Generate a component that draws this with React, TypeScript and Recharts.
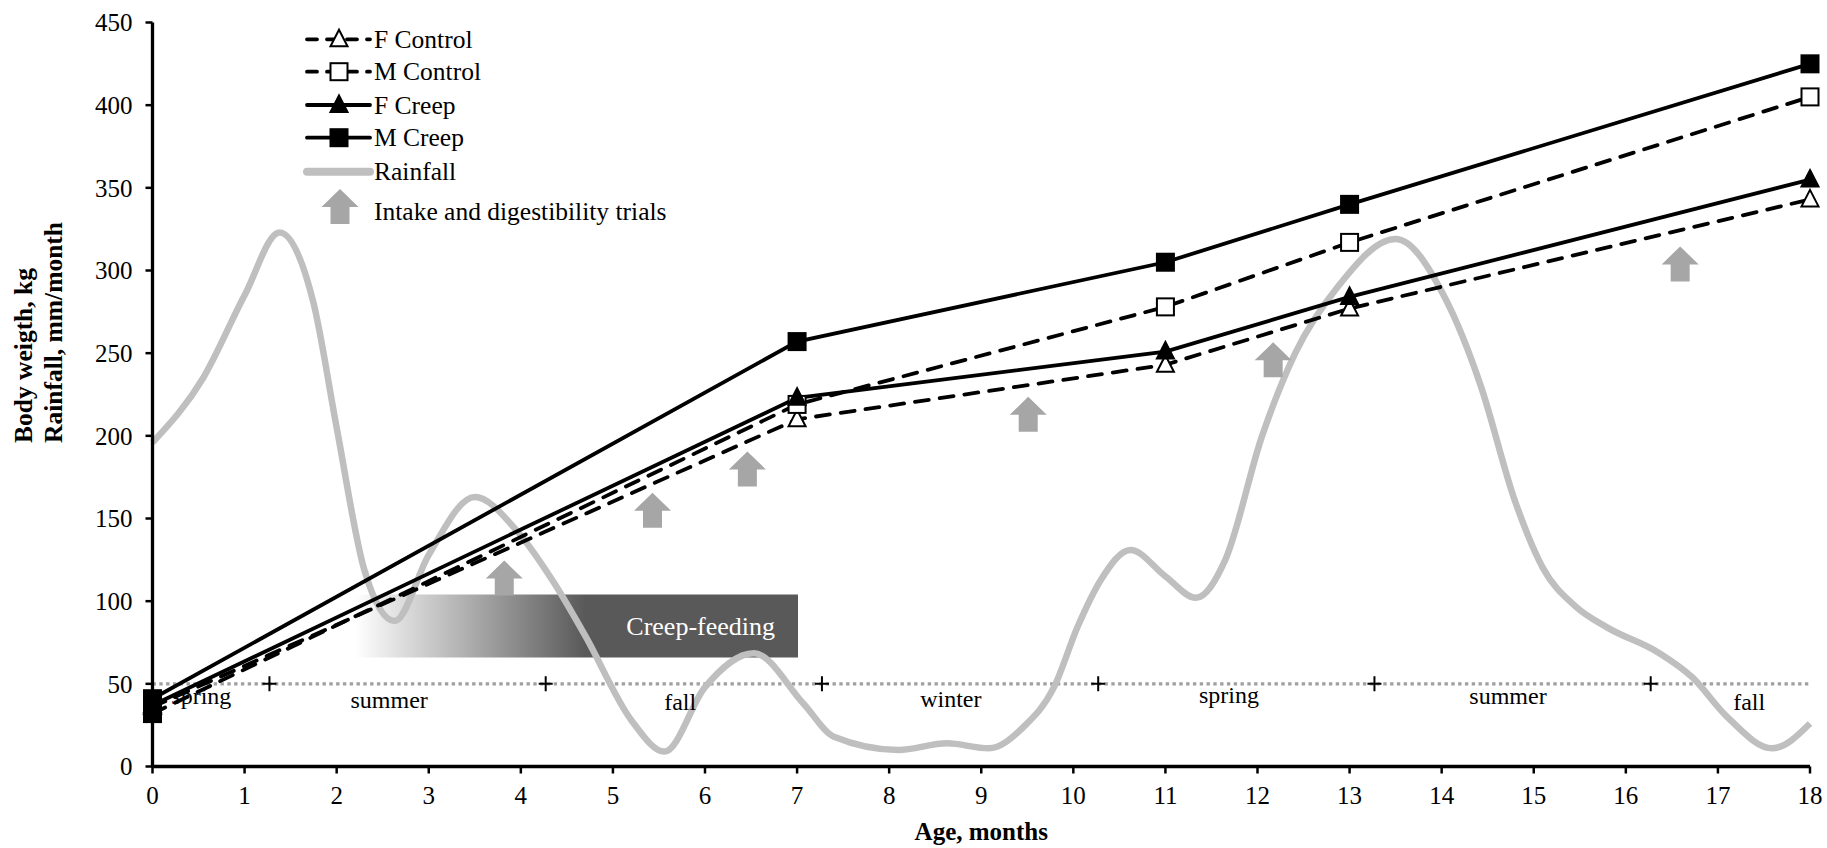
import React from 'react';
import { ComposedChart, Line, XAxis, YAxis, Scatter, ReferenceArea, ReferenceLine } from 'recharts';

const FONT = 'Liberation Serif';

// Body weight (kg) at weighing ages (months)
const weighMonths = [0, 7, 11, 13, 18];
const fControl = [36, 210, 243, 277, 343];
const mControl = [32, 219, 278, 317, 405];
const fCreep = [37, 223, 251, 284, 355];
const mCreep = [41, 257, 305, 340, 425];

// Rainfall (mm/month)
const rainMonths = [0, 0.55, 1.0, 1.38, 1.75, 2.0, 2.3, 2.63, 3.0, 3.5, 3.95, 4.35, 4.7, 5.2, 5.56, 6.0, 6.53, 7.07, 7.4, 8.1, 8.63, 9.08, 9.46, 9.79, 10.05, 10.3, 10.62, 11.0, 11.33, 11.65, 12.05, 12.41, 12.87, 13.5, 14.04, 14.42, 14.8, 15.1, 15.45, 15.8, 16.35, 16.72, 17.1, 17.59, 18];
const rainValues = [196, 235, 285, 323, 280, 205, 119, 88, 128, 163, 143, 112, 79, 28, 9, 48, 68.5, 38, 18, 10, 14, 11, 24, 48, 85, 113, 131, 115, 102, 125, 200, 250, 290, 319, 283, 231, 160, 120, 97, 84, 69, 54, 30, 11, 26];

// Intake and digestibility trials
const trialMonths = [3.82, 5.43, 6.46, 9.51, 12.17, 16.59];
const trialValues = [114, 155, 180, 213, 246, 304];

// Seasons
const seasonLevel = 50;
const seasonMarkMonths = [1.27, 4.27, 7.27, 10.27, 13.27, 16.27];
const seasonNames = ['spring', 'summer', 'fall', 'winter', 'spring', 'summer', 'fall'];
const seasonNameMonths = [0.53, 2.57, 5.73, 8.67, 11.69, 14.72, 17.34];
const seasonNameValues = [37.8, 35.4, 34.2, 36, 38.4, 37.8, 34.2];

// Creep-feeding period
const creepStart = 2.2;
const creepEnd = 7.01;
const creepLow = 66;
const creepHigh = 104;

const xTicks = [0, 1, 2, 3, 4, 5, 6, 7, 8, 9, 10, 11, 12, 13, 14, 15, 16, 17, 18];
const yTicks = [0, 50, 100, 150, 200, 250, 300, 350, 400, 450];

const toXY = (xs: number[], ys: number[]) => xs.map((x, i) => ({ x, y: ys[i] }));

const fControlData = toXY(weighMonths, fControl);
const mControlData = toXY(weighMonths, mControl);
const fCreepData = toXY(weighMonths, fCreep);
const mCreepData = toXY(weighMonths, mCreep);
const rainData = toXY(rainMonths, rainValues);
const trialData = toXY(trialMonths, trialValues);
const seasonMarkData = seasonMarkMonths.map((x) => ({ x, y: seasonLevel }));
const seasonNameData = seasonNames.map((label, i) => ({ x: seasonNameMonths[i], y: seasonNameValues[i], label }));

const LINE_W = 3.8;
const DASH = '14 11';
const RAIN_COLOR = '#bfbfbf';
const ARROW_COLOR = '#a6a6a6';

const Square = ({ cx, cy, filled }: { cx: number; cy: number; filled: boolean }) => (
  <rect x={cx - 8.5} y={cy - 8.5} width={17} height={17} fill={filled ? '#000' : '#fff'} stroke="#000" strokeWidth={2} />
);

const Triangle = ({ cx, cy, filled }: { cx: number; cy: number; filled: boolean }) => (
  <path
    d={`M${cx},${cy - 9.5} L${cx + 8.5},${cy + 7} L${cx - 8.5},${cy + 7} Z`}
    fill={filled ? '#000' : '#fff'}
    stroke="#000"
    strokeWidth={2}
    strokeLinejoin="miter"
  />
);

const Arrow = ({ cx, cy }: { cx: number; cy: number }) => {
  const w = 37;
  const h = 35;
  const hh = 18;
  const sw = 19;
  const top = cy - h / 2;
  const bot = cy + h / 2;
  const mid = top + hh;
  return (
    <path
      d={`M${cx},${top} L${cx + w / 2},${mid} L${cx + sw / 2},${mid} L${cx + sw / 2},${bot} L${cx - sw / 2},${bot} L${cx - sw / 2},${mid} L${cx - w / 2},${mid} Z`}
      fill={ARROW_COLOR}
    />
  );
};

// the starting (month 0) markers overlap and print solid black in the source
const dotRenderer = (kind: 'sq' | 'tri', filled: boolean) => (p: any) => {
  const key = `dot-${kind}-${filled ? 'f' : 'o'}-${p.index}`;
  if (p.cx == null || p.cy == null) return <g key={key} />;
  const f = filled || p.index === 0;
  return kind === 'sq' ? (
    <Square key={key} cx={p.cx} cy={p.cy} filled={f} />
  ) : (
    <Triangle key={key} cx={p.cx} cy={p.cy} filled={f} />
  );
};

const YTitle = (props: any) => {
  const vb = props.viewBox || { x: 0, y: 0 };
  const yStart = 443;
  return (
    <g fontFamily={FONT} fontWeight="bold" fontSize={25.5} fill="#000">
      <text transform={`translate(${vb.x + 32},${yStart}) rotate(-90)`} textAnchor="start">
        Body weigth, kg
      </text>
      <text transform={`translate(${vb.x + 62},${yStart}) rotate(-90)`} textAnchor="start">
        Rainfall, mm/month
      </text>
    </g>
  );
};

const XTitle = (props: any) => {
  const vb = props.viewBox || { x: 0, y: 0, width: 0 };
  return (
    <text x={vb.x + vb.width / 2} y={840} textAnchor="middle" fontFamily={FONT} fontWeight="bold" fontSize={25} fill="#000">
      Age, months
    </text>
  );
};

const legendRows = [
  { name: 'F Control', kind: 'tri' as const, filled: false, dashed: true },
  { name: 'M Control', kind: 'sq' as const, filled: false, dashed: true },
  { name: 'F Creep', kind: 'tri' as const, filled: true, dashed: false },
  { name: 'M Creep', kind: 'sq' as const, filled: true, dashed: false },
];

const LegendOverlay = () => {
  const rowY = [39.3, 71.7, 105, 137.7];
  const x0 = 307;
  const x1 = 370;
  const mx = 339;
  const tx = 374;
  return (
    <svg width={700} height={240} style={{ position: 'absolute', left: 0, top: 0, pointerEvents: 'none' }}>
      <g fontFamily={FONT} fontSize={25.5} fill="#000">
        {legendRows.map((r, i) => (
          <g key={r.name}>
            <line
              x1={x0}
              x2={x1}
              y1={rowY[i]}
              y2={rowY[i]}
              stroke="#000"
              strokeWidth={LINE_W}
              strokeDasharray={r.dashed ? '10 10' : undefined}
              strokeLinecap="round"
            />
            {r.kind === 'sq' ? (
              <Square cx={mx} cy={rowY[i]} filled={r.filled} />
            ) : (
              <Triangle cx={mx} cy={rowY[i]} filled={r.filled} />
            )}
            <text x={tx} y={rowY[i]} dominantBaseline="central">
              {r.name}
            </text>
          </g>
        ))}
        <line x1={x0} x2={x1} y1={171.7} y2={171.7} stroke={RAIN_COLOR} strokeWidth={8} strokeLinecap="round" />
        <text x={tx} y={171.7} dominantBaseline="central">
          Rainfall
        </text>
        <Arrow cx={340} cy={206.5} />
        <text x={tx} y={211} dominantBaseline="central">
          Intake and digestibility trials
        </text>
      </g>
    </svg>
  );
};

export default function App() {
  return (
    <div style={{ position: 'absolute', left: 0, top: 0, width: 1827, height: 848, background: '#fff' }}>
      <ComposedChart width={1827} height={848} margin={{ top: 22.5, right: 17, bottom: 21.5, left: 0 }}>
        <defs>
          <linearGradient id="creepGrad" x1="0" y1="0" x2="1" y2="0">
            <stop offset="0" stopColor="#ffffff" />
            <stop offset="0.52" stopColor="#595959" />
            <stop offset="1" stopColor="#595959" />
          </linearGradient>
        </defs>
        <XAxis
          dataKey="x"
          type="number"
          domain={[0, 18]}
          ticks={xTicks}
          interval={0}
          height={60}
          axisLine={{ stroke: '#000', strokeWidth: 3.3 }}
          tickLine={{ stroke: '#000', strokeWidth: 2.5 }}
          tickSize={7}
          tickMargin={13}
          tick={{ fill: '#000', fontSize: 25, fontFamily: FONT }}
          label={<XTitle />}
        />
        <YAxis
          dataKey="y"
          type="number"
          domain={[0, 450]}
          ticks={yTicks}
          interval={0}
          width={152.5}
          axisLine={{ stroke: '#000', strokeWidth: 3.3 }}
          tickLine={{ stroke: '#000', strokeWidth: 2.5 }}
          tickSize={7}
          tickMargin={13}
          tick={{ fill: '#000', fontSize: 25, fontFamily: FONT }}
          label={<YTitle />}
        />
        <ReferenceLine y={seasonLevel} stroke="#a0a0a0" strokeWidth={3.4} strokeDasharray="3.4 3.4" />
        <ReferenceArea
          x1={creepStart}
          x2={creepEnd}
          y1={creepLow}
          y2={creepHigh}
          fill="url(#creepGrad)"
          fillOpacity={1}
          stroke="none"
          label={{ value: 'Creep-feeding', position: 'insideRight', offset: 23, fill: '#fff', fontSize: 26, fontFamily: FONT }}
        />
        <Scatter
          data={seasonMarkData}
          isAnimationActive={false}
          shape={(p: any) => (
            <path d={`M${p.cx - 7},${p.cy} L${p.cx + 7},${p.cy} M${p.cx},${p.cy - 7.5} L${p.cx},${p.cy + 7.5}`} stroke="#000" strokeWidth={2} />
          )}
        />
        <Scatter
          data={seasonNameData}
          isAnimationActive={false}
          shape={(p: any) => (
            <text x={p.cx} y={p.cy} textAnchor="middle" fontFamily={FONT} fontSize={24} fill="#000">
              {p.payload.label}
            </text>
          )}
        />
        <Line
          data={rainData}
          dataKey="y"
          type="monotone"
          stroke={RAIN_COLOR}
          strokeWidth={6.5}
          dot={false}
          activeDot={false}
          isAnimationActive={false}
        />
        <Line
          data={fControlData}
          dataKey="y"
          type="linear"
          stroke="#000"
          strokeWidth={LINE_W}
          strokeDasharray={DASH}
          strokeLinecap="round"
          dot={dotRenderer('tri', false)}
          activeDot={false}
          isAnimationActive={false}
        />
        <Line
          data={mControlData}
          dataKey="y"
          type="linear"
          stroke="#000"
          strokeWidth={LINE_W}
          strokeDasharray={DASH}
          strokeLinecap="round"
          dot={dotRenderer('sq', false)}
          activeDot={false}
          isAnimationActive={false}
        />
        <Line
          data={fCreepData}
          dataKey="y"
          type="linear"
          stroke="#000"
          strokeWidth={LINE_W}
          dot={dotRenderer('tri', true)}
          activeDot={false}
          isAnimationActive={false}
        />
        <Line
          data={mCreepData}
          dataKey="y"
          type="linear"
          stroke="#000"
          strokeWidth={LINE_W}
          dot={dotRenderer('sq', true)}
          activeDot={false}
          isAnimationActive={false}
        />
        <Scatter data={trialData} isAnimationActive={false} shape={(p: any) => <Arrow cx={p.cx} cy={p.cy} />} />
      </ComposedChart>
      <LegendOverlay />
    </div>
  );
}
